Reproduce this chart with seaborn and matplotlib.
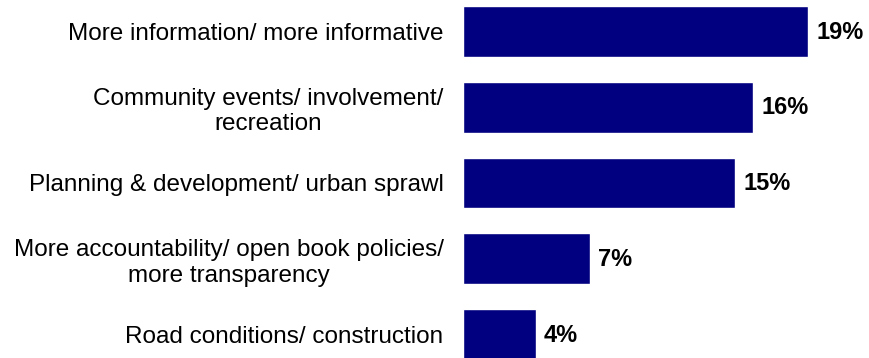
import matplotlib
matplotlib.use("Agg")
import matplotlib.pyplot as plt
import seaborn as sns
import pandas as pd

categories = [
    "More information/ more informative",
    "Community events/ involvement/\nrecreation",
    "Planning & development/ urban sprawl",
    "More accountability/ open book policies/\nmore transparency",
    "Road conditions/ construction",
]
values = [19, 16, 15, 7, 4]
value_labels = ["19%", "16%", "15%", "7%", "4%"]

df = pd.DataFrame({"category": categories, "value": values})

sns.set_theme(style="white")
plt.rcParams["font.family"] = ["Liberation Sans", "DejaVu Sans"]

W, H, DPI = 869, 358, 100
fig = plt.figure(figsize=(W / DPI, H / DPI), dpi=DPI)
left_px = 463
ax = fig.add_axes([left_px / W, 0, (W - left_px) / W, 1])

sns.barplot(data=df, x="value", y="category", orient="h", color="#000080",
            saturation=1, width=0.67, ax=ax)

px_per_unit = 18.15
ax.set_xlim(0, (W - left_px) / px_per_unit)
ax.set_ylim(4 + (358 - 334.5) / 76, -31.5 / 76)

for i, (v, lab) in enumerate(zip(values, value_labels)):
    ax.annotate(lab, xy=(v, i), xytext=(6, -0.5), textcoords="offset points",
                ha="left", va="center", fontsize=17, fontweight="bold",
                color="black")

ax.set_xlabel("")
ax.set_ylabel("")
ax.set_xticks([])
ax.tick_params(axis="y", length=0, pad=14)
for t in ax.get_yticklabels():
    t.set_fontsize(17.5)
    t.set_color("black")
    t.set_multialignment("center")
    t.set_linespacing(1.2)
for s in ax.spines.values():
    s.set_visible(False)

fig.savefig("out.png", dpi=DPI, facecolor="white")
